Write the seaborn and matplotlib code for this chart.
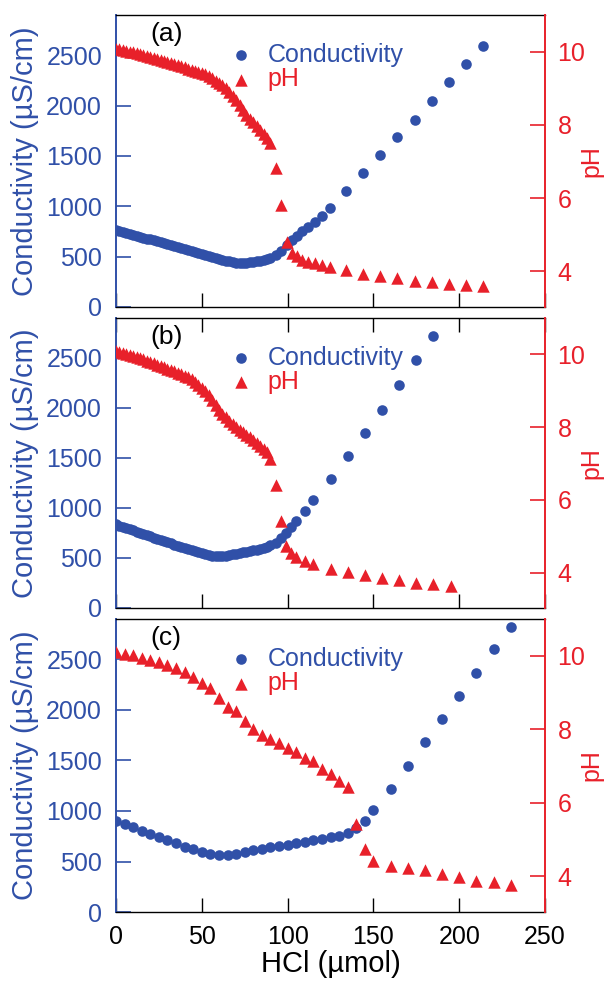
import matplotlib
matplotlib.use("Agg")
import matplotlib.pyplot as plt
import numpy as np
import pandas as pd
import seaborn as sns

# HCl added (µmol), conductivity (µS/cm) and pH for the three titrations
hcl_a = [0, 2, 4, 6, 8, 10, 12, 14, 16, 18, 20, 22, 24, 26, 28, 30, 32, 34, 36, 38,
         40, 42, 44, 46, 48, 50, 52, 54, 56, 58, 60, 62, 64, 66, 68, 70, 72, 74, 76, 78,
         80, 82, 84, 86, 88, 90, 93, 96, 99.5, 102.5, 105.5, 108.5, 112, 116, 120, 124.5,
         134, 144, 154, 164, 174, 184, 194, 204, 214]
cond_a = [768, 758, 749, 739, 729, 719, 710, 700, 690, 680, 671, 661, 651, 641, 632, 622,
          612, 602, 593, 583, 573, 563, 554, 544, 534, 525, 515, 506, 496, 487, 478, 469,
          460, 452, 446, 441, 439, 439, 440, 443, 447, 452, 458, 466, 476, 490, 518, 560,
          612, 662, 708, 750, 790, 848, 905, 980, 1157, 1335, 1510, 1687, 1862, 2050, 2234,
          2413, 2595]
ph_a = [10.08, 10.06, 10.04, 10.02, 10.00, 9.98, 9.96, 9.93, 9.91, 9.88, 9.86, 9.83, 9.80,
        9.77, 9.75, 9.72, 9.69, 9.66, 9.63, 9.60, 9.57, 9.54, 9.51, 9.48, 9.45, 9.42, 9.38,
        9.33, 9.27, 9.21, 9.15, 9.08, 9.00, 8.91, 8.80, 8.68, 8.54, 8.40, 8.28, 8.17, 8.07,
        7.97, 7.86, 7.75, 7.63, 7.52, 6.83, 5.82, 4.80, 4.50, 4.41, 4.32, 4.27, 4.23, 4.18,
        4.13, 4.03, 3.94, 3.88, 3.82, 3.75, 3.70, 3.66, 3.64, 3.59]

hcl_b = [0, 2, 4, 6, 8, 10, 12, 14, 16, 18, 20, 22, 24, 26, 28, 30, 32, 34, 36, 38,
         40, 42, 44, 46, 48, 50, 52, 54, 56, 58, 60, 62, 64, 66, 68, 70, 72, 74, 76, 78,
         80, 82, 84, 86, 88, 90, 93, 96, 99, 102, 105, 110, 115, 125, 135, 145, 155, 165,
         175, 185, 195]
cond_b = [835, 823, 811, 800, 788, 776, 764, 752, 740, 728, 716, 704, 692, 680, 668, 657,
          645, 634, 622, 611, 600, 589, 578, 567, 556, 545, 535, 526, 519, 516, 516, 518,
          523, 529, 535, 542, 549, 556, 563, 570, 577, 584, 592, 601, 612, 625, 650, 695,
          750, 810, 865, 965, 1075, 1290, 1520, 1748, 1979, 2234, 2476, 2718, np.nan]
ph_b = [10.08, 10.06, 10.04, 10.01, 9.98, 9.95, 9.92, 9.89, 9.86, 9.83, 9.79, 9.76, 9.72,
        9.68, 9.65, 9.61, 9.57, 9.53, 9.49, 9.45, 9.41, 9.37, 9.32, 9.25, 9.16, 9.07, 8.98,
        8.88, 8.76, 8.62, 8.46, 8.36, 8.27, 8.18, 8.09, 8.00, 7.93, 7.86, 7.79, 7.72, 7.65,
        7.57, 7.49, 7.40, 7.32, 7.13, 6.41, 5.43, 4.73, 4.53, 4.44, 4.33, 4.25, 4.11, 4.01,
        3.93, 3.86, 3.80, 3.73, 3.68, 3.64]

hcl_c = [0, 5, 10, 15, 20, 25, 30, 35, 40, 45, 50, 55, 60, 65, 70, 75, 80, 85, 90, 95,
         100, 105, 110, 115, 120, 125, 130, 135, 140, 145, 150, 160, 170, 180, 190, 200,
         210, 220, 230]
cond_c = [904, 870, 837, 804, 771, 738, 712, 679, 646, 619, 592, 573, 563, 569, 579, 592,
          612, 626, 639, 652, 665, 679, 692, 708, 725, 738, 755, 778, 828, 904, 1006, 1221,
          1446, 1678, 1910, 2138, 2370, 2602, 2820]
ph_c = [10.09, 10.06, 10.03, 9.95, 9.88, 9.82, 9.76, 9.66, 9.55, 9.41, 9.26, 9.11, 8.85,
        8.61, 8.49, 8.23, 8.01, 7.85, 7.73, 7.62, 7.49, 7.37, 7.23, 7.13, 6.92, 6.78, 6.60,
        6.42, 5.42, 4.74, 4.42, 4.29, 4.22, 4.17, 4.06, 3.97, 3.88, 3.84, 3.77]

BLUE = "#3050A8"
RED = "#E8202A"

sns.set_theme(style="white")
plt.rcParams["font.family"] = ["Liberation Sans", "DejaVu Sans"]

fig = plt.figure(figsize=(6.08, 9.83), dpi=100)
boxes = [[0.1908, 0.6877, 0.7056, 0.2970],
         [0.1908, 0.3815, 0.7056, 0.2950],
         [0.1908, 0.0722, 0.7056, 0.2981]]


def panel(box, x, cond, ph, letter, bottom_labels, top_ticks):
    df = pd.DataFrame({"HCl": x, "Conductivity": cond, "pH": ph})
    ax = fig.add_axes(box)
    sns.scatterplot(data=df, x="HCl", y="Conductivity", ax=ax, color=BLUE, s=58,
                    marker="o", linewidth=0, label="Conductivity", legend=False)
    ax2 = ax.twinx()
    sns.scatterplot(data=df, x="HCl", y="pH", ax=ax2, color=RED, s=80,
                    marker="^", linewidth=0, label="pH", legend=False)

    ax.set_xlim(0, 250)
    ax.set_ylim(0, 2900)
    ax2.set_ylim(3.03, 11.0)
    ax.set_xticks([0, 50, 100, 150, 200, 250])
    ax.set_yticks([0, 500, 1000, 1500, 2000, 2500])
    ax2.set_yticks([4, 6, 8, 10])

    ax.spines["left"].set_color(BLUE)
    ax.spines["left"].set_linewidth(1.4)
    ax.spines["right"].set_visible(False)
    for s in ["top", "bottom"]:
        ax.spines[s].set_color("black")
        ax.spines[s].set_linewidth(1.0)
        ax2.spines[s].set_visible(False)
    ax2.spines["left"].set_visible(False)
    ax2.spines["right"].set_color(RED)
    ax2.spines["right"].set_linewidth(1.4)

    ax.tick_params(axis="y", direction="in", length=10.5, width=1.2, colors=BLUE,
                   labelsize=18, pad=10, left=True)
    ax.tick_params(axis="x", direction="in", length=10, width=1.0, color="black",
                   labelcolor="black", labelsize=18, pad=9, bottom=True, top=top_ticks,
                   labelbottom=bottom_labels)
    ax2.tick_params(axis="y", direction="in", length=10.5, width=1.2, colors=RED,
                    labelsize=18, pad=9, right=True)

    ax.set_ylabel("Conductivity (µS/cm)", color=BLUE, fontsize=21)
    ax.yaxis.set_label_coords(-0.18, 0.5)
    ax2.set_ylabel("pH", color=RED, fontsize=18)
    ax2.yaxis.set_label_coords(1.08, 0.5)
    if bottom_labels:
        ax.set_xlabel("HCl (µmol)", color="black", fontsize=21)
        ax.xaxis.set_label_coords(0.5, -0.13)
    else:
        ax.set_xlabel("")

    ax.text(0.079, 0.975, letter, transform=ax.transAxes, fontsize=19,
            ha="left", va="top", color="black")

    h1, l1 = ax.get_legend_handles_labels()
    h2, l2 = ax2.get_legend_handles_labels()
    leg = ax2.legend(h1 + h2, l1 + l2, loc="upper left", bbox_to_anchor=(0.263, 0.905),
                     frameon=False, fontsize=18, borderpad=0, handlelength=1.0,
                     handletextpad=0.55, labelspacing=0.02, borderaxespad=0)
    for txt, c in zip(leg.get_texts(), [BLUE, RED]):
        txt.set_color(c)


panel(boxes[0], hcl_a, cond_a, ph_a, "(a)", False, False)
panel(boxes[1], hcl_b, cond_b, ph_b, "(b)", False, True)
panel(boxes[2], hcl_c, cond_c, ph_c, "(c)", True, False)

fig.savefig("out.png", dpi=100)
